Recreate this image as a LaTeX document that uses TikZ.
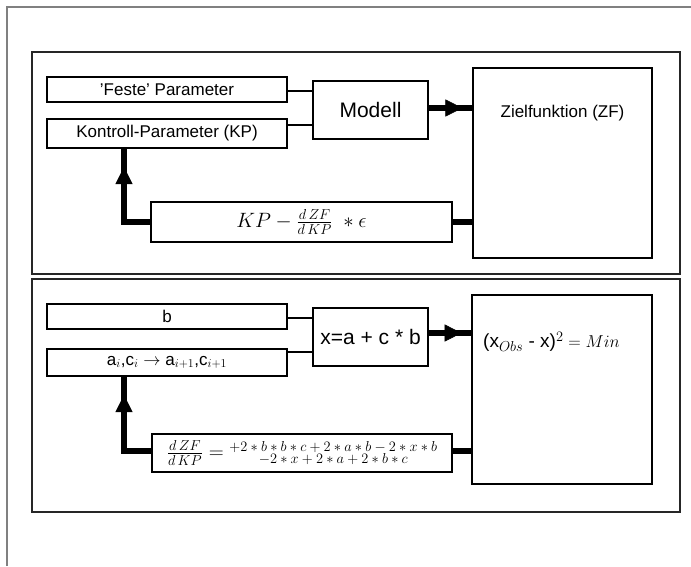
\documentclass[tikz,border=0pt]{standalone}
\usepackage{fontspec}
\setmainfont{Liberation Sans}
\usetikzlibrary{arrows.meta,decorations.markings}
\begin{document}
\begin{tikzpicture}[x=1pt,y=-1pt,
  box/.style={draw, line width=2.3pt, inner sep=0pt, rectangle, font=\fontsize{17}{20}\selectfont},
  panel/.style={draw=black!85, line width=2.3pt},
  thin/.style={line width=2.5pt},
  thickline/.style={line width=6pt},
  midarrow/.style={postaction={decorate}, decoration={markings, mark=at position #1 with {\arrow{Triangle[length=17pt,width=17pt,line width=0.5pt]}}}}
]
\useasboundingbox (0,0) rectangle (691,566);
\draw[gray, line width=1.6pt] (7,566) -- (7,7) -- (691,7);
% panels
\draw[panel] (32,52) rectangle (680,274);
\draw[panel] (32,279) rectangle (680,512);
% top panel
\node[box, minimum width=240pt, minimum height=25pt] (feste) at (167,89.5) {'Feste' Parameter};
\node[box, minimum width=240pt, minimum height=29pt] (kp) at (167,133.5) {Kontroll-Parameter (KP)};
\node[box, minimum width=115pt, minimum height=58pt, font=\fontsize{21}{24}\selectfont] (modell) at (370.5,110) {Modell};
\node[box, minimum width=179pt, minimum height=190pt] (zf) at (562.5,163) {};
\node[font=\fontsize{17}{20}\selectfont, inner sep=0pt] (zft) at (562.5,113) {Zielfunktion (ZF)};
\node[box, minimum width=301pt, minimum height=40pt, font=\fontsize{22}{26}\selectfont] (f1) at (301.5,222) {$KP-\frac{d\,ZF}{d\,KP}\ *\epsilon$};
\coordinate (c1) at (300,91);
\coordinate (c2) at (300,125);
\coordinate (c3) at (450,108);
\coordinate (kpfoot) at (124,148);
\draw[thin] (feste.east |- c1) -- (modell.west |- c1);
\draw[thin] (kp.east |- c2) -- (modell.west |- c2);
\draw[thickline, midarrow=0.78] (modell.east |- c3) -- (zf.west |- c3);
\draw[thickline] (f1.east) -- (zf.west |- f1.east);
\draw[thickline, midarrow=-19pt] (f1.west) -| (kpfoot);
% bottom panel
\node[box, minimum width=240pt, minimum height=25pt] (b) at (167,316.5) {b};
\node[box, minimum width=240pt, minimum height=27pt] (a) at (167,362.5) {a$_i$,c$_i$ $\rightarrow$ a$_{i+1}$,c$_{i+1}$};
\node[box, minimum width=115pt, minimum height=58pt, font=\fontsize{21}{24}\selectfont] (x) at (370.5,337) {x=a + c * b};
\node[box, minimum width=180pt, minimum height=189pt] (zf2) at (562,389.5) {};
\node[font=\fontsize{19}{22}\selectfont, inner sep=0pt, anchor=west] (zf2t) at (483,342) {(x$_{Obs}$ - x)$^2=Min$};
\node[box, minimum width=300pt, minimum height=38pt, font=\fontsize{20}{24}\selectfont] (f2) at (302,453)
  {$\frac{d\,ZF}{d\,KP}=\vcenter{\hbox{\fontsize{14}{12.5}\selectfont\vbox{\lineskiplimit=-20pt\halign{\hfil$#$\hfil\cr +2*b*b*c+2*a*b-2*x*b\cr -2*x+2*a+2*b*c\cr}}}}$};
\coordinate (d1) at (300,318);
\coordinate (d2) at (300,352);
\coordinate (d3) at (450,333);
\coordinate (afoot) at (124,376);
\coordinate (d4) at (300,451);
\draw[thin] (b.east |- d1) -- (x.west |- d1);
\draw[thin] (a.east |- d2) -- (x.west |- d2);
\draw[thickline, midarrow=0.78] (x.east |- d3) -- (zf2.west |- d3);
\draw[thickline] (f2.east |- d4) -- (zf2.west |- d4);
\draw[thickline, midarrow=-19pt] (f2.west |- d4) -| (afoot);
\end{tikzpicture}
\end{document}
